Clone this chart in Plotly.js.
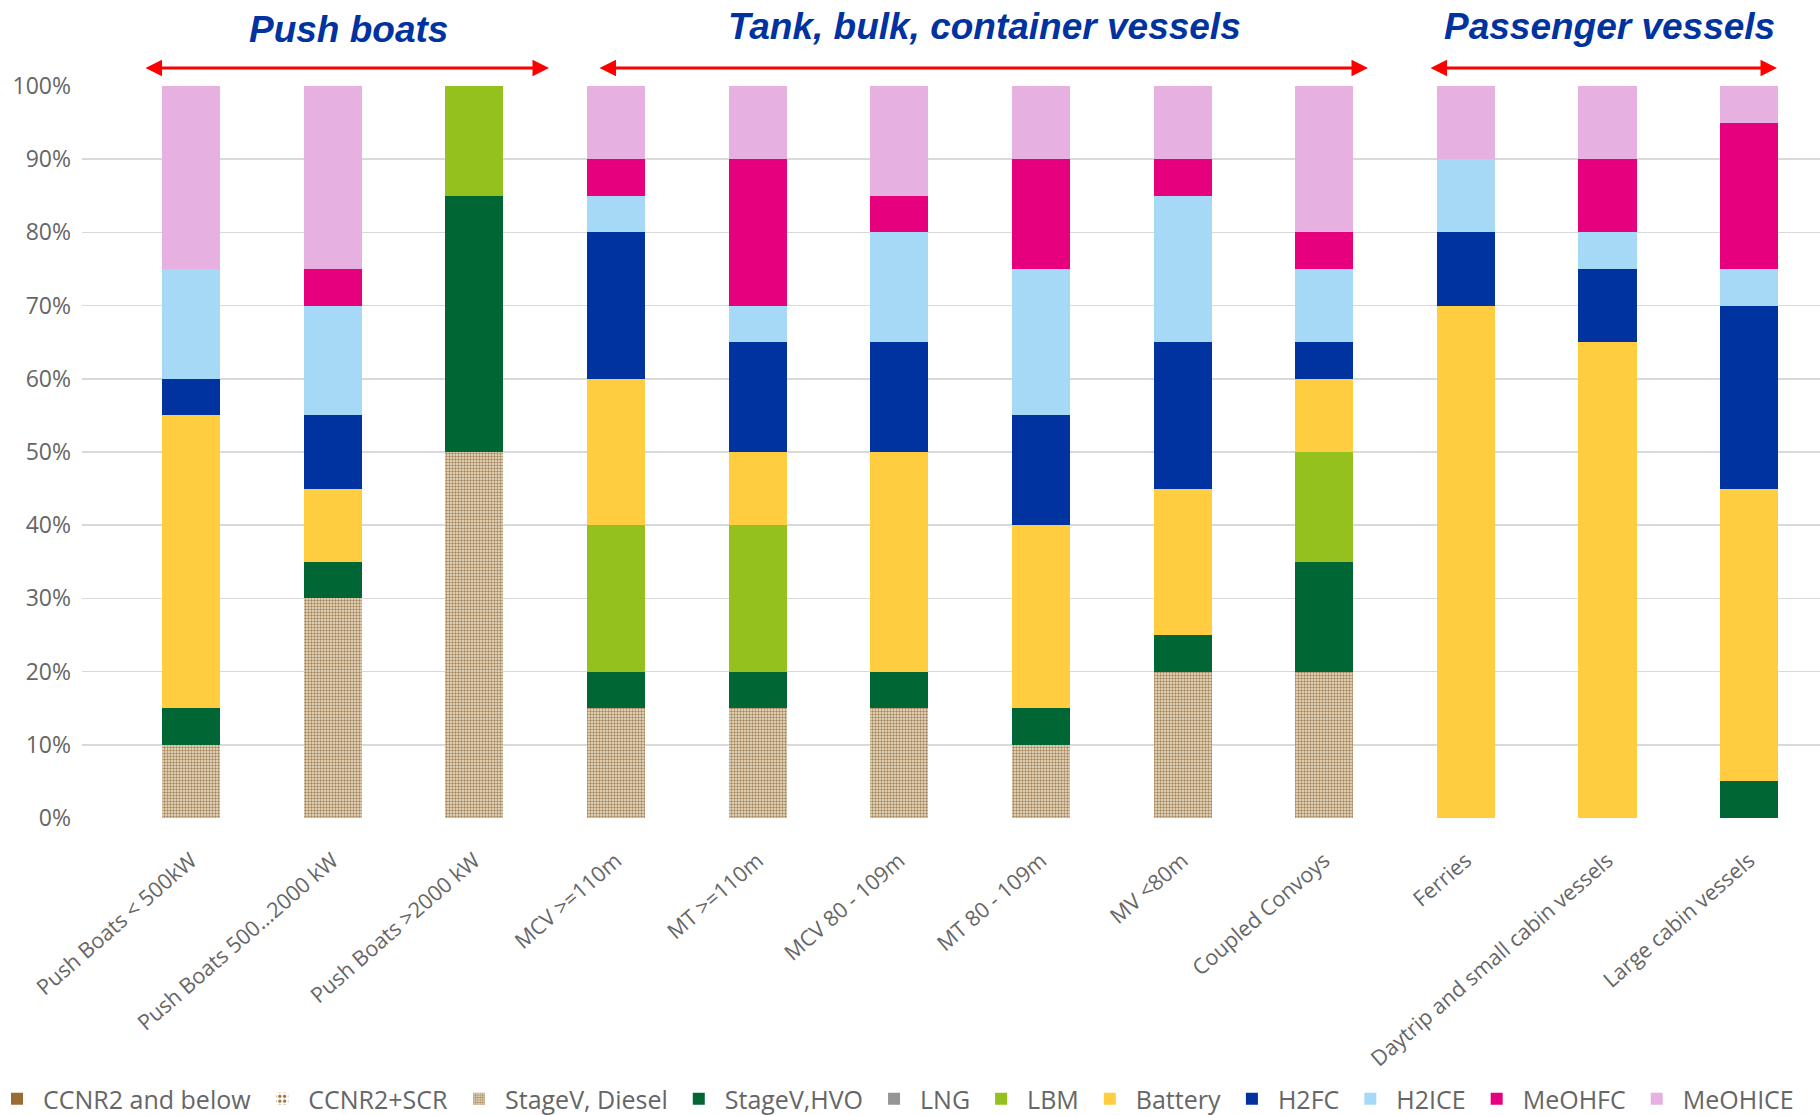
<!DOCTYPE html>
<html>
<head>
<meta charset="utf-8">
<script src="https://cdn.plot.ly/plotly-3.0.1.min.js"></script>
<style>
html,body{margin:0;padding:0;background:#fff;}
#chart{width:1820px;height:1115px;}
</style>
</head>
<body>
<div id="chart"></div>
<script>
// ---- data ----
const categories = [
  "Push Boats < 500kW", "Push Boats 500...2000 kW", "Push Boats >2000 kW",
  "MCV >=110m", "MT >=110m", "MCV 80 - 109m", "MT 80 - 109m", "MV <80m",
  "Coupled Convoys", "Ferries", "Daytrip and small cabin vessels", "Large cabin vessels"
];
const seriesNames = ["CCNR2 and below", "CCNR2+SCR", "StageV, Diesel", "StageV,HVO", "LNG",
  "LBM", "Battery", "H2FC", "H2ICE", "MeOHFC", "MeOHICE"];
const ccnr2Below   = [0, 0, 0, 0, 0, 0, 0, 0, 0, 0, 0, 0];
const ccnr2Scr     = [0, 0, 0, 0, 0, 0, 0, 0, 0, 0, 0, 0];
const stageVDiesel = [10, 30, 50, 15, 15, 15, 10, 20, 20, 0, 0, 0];
const stageVHVO    = [5, 5, 35, 5, 5, 5, 5, 5, 15, 0, 0, 5];
const lng          = [0, 0, 0, 0, 0, 0, 0, 0, 0, 0, 0, 0];
const lbm          = [0, 0, 15, 20, 20, 0, 0, 0, 15, 0, 0, 0];
const battery      = [40, 10, 0, 20, 10, 30, 25, 20, 10, 70, 65, 40];
const h2fc         = [5, 10, 0, 20, 15, 15, 15, 20, 5, 10, 10, 25];
const h2ice        = [15, 15, 0, 5, 5, 15, 20, 20, 10, 10, 5, 5];
const meohfc       = [0, 5, 0, 5, 20, 5, 15, 5, 5, 0, 10, 20];
const meohice      = [25, 25, 0, 10, 10, 15, 10, 10, 20, 10, 10, 5];
const groupTitles  = ["Push boats", "Tank, bulk, container vessels", "Passenger vessels"];

// ---- styles ----
const seriesValues = [ccnr2Below, ccnr2Scr, stageVDiesel, stageVHVO, lng, lbm, battery, h2fc, h2ice, meohfc, meohice];
const colors = ["#9A6B33", "#9A6B33", "#B8996A", "#006633", "#959595", "#95C11F", "#FFCD3F", "#0033A0", "#A6D9F6", "#E6007E", "#E6B0E0"];
const patterns = [
  null,
  {shape: ".", fgcolor: "#9A6B33", bgcolor: "#ffffff", size: 6, solidity: 0.35, fillmode: "replace"},
  {shape: ".", fgcolor: "#A8885A", bgcolor: "#EDE3D3", size: 3, solidity: 0.5, fillmode: "replace"},
  null, null, null, null, null, null, null, null
];

const traces = seriesNames.map((name, i) => {
  const marker = {color: colors[i], line: {width: 0}};
  if (patterns[i]) marker.pattern = patterns[i];
  return {
    type: "bar", name: name, x: categories, y: seriesValues[i],
    marker: marker, width: 0.41, hoverinfo: "skip"
  };
});

const L = 82, R = 0, T = 86, B = 297, FW = 1820, FH = 1115;
const PW = FW - L - R, PH = FH - T - B;
const px = v => (v - L) / PW;
const py = v => (FH - B - v) / PH;

const titleFont = {family: "Liberation Sans, Arial, sans-serif", size: 37, color: "#0033A0", weight: "bold", style: "italic"};
const annotations = [
  {text: groupTitles[0], x: px(348), y: py(30), xref: "paper", yref: "paper", showarrow: false, font: titleFont, xanchor: "center", yanchor: "middle"},
  {text: groupTitles[1], x: px(985), y: py(27), xref: "paper", yref: "paper", showarrow: false, font: titleFont, xanchor: "center", yanchor: "middle"},
  {text: groupTitles[2], x: px(1609), y: py(27), xref: "paper", yref: "paper", showarrow: false, font: titleFont, xanchor: "center", yanchor: "middle"}
];
const arrows = [[144, 549], [598, 1368], [1429, 1777]];
arrows.forEach(a => {
  annotations.push({
    text: "", x: px(a[1]), y: py(68), xref: "paper", yref: "paper",
    ax: -(a[1] - a[0]), ay: 0, axref: "pixel", ayref: "pixel",
    showarrow: true, arrowside: "end+start", arrowhead: 2, startarrowhead: 2,
    arrowsize: 1.1, startarrowsize: 1.1, arrowwidth: 3, arrowcolor: "#FF0000"
  });
});

const tickFontX = {family: "Open Sans, sans-serif", size: 21.5, color: "#666666"};
const tickFontY = {family: "Open Sans, sans-serif", size: 23, color: "#666666"};
const layout = {
  width: FW, height: FH,
  margin: {l: L, r: R, t: T, b: B, pad: 0, autoexpand: false},
  paper_bgcolor: "#ffffff", plot_bgcolor: "#ffffff",
  barmode: "stack", bargap: 0.59,
  showlegend: true,
  legend: {
    orientation: "h", x: px(-9), xanchor: "left", y: py(1099), yanchor: "middle",
    bgcolor: "rgba(0,0,0,0)",
    font: {family: "Open Sans, sans-serif", size: 25, color: "#666666"},
    traceorder: "normal", itemwidth: 42, itemclick: false
  },
  xaxis: {
    type: "category", range: [-0.77, 11.5], tickangle: -41, tickfont: tickFontX,
    showgrid: false, zeroline: false, showline: false, ticks: "", ticklabelstandoff: 25,
    automargin: false
  },
  yaxis: {
    range: [0, 100], dtick: 10, ticksuffix: "%", tickfont: tickFontY,
    showgrid: true, gridcolor: "#D9D9D9", gridwidth: 1.5, zeroline: false, showline: false, ticks: "",
    ticklabelstandoff: 10, automargin: false
  },
  annotations: annotations
};

Plotly.newPlot("chart", traces, layout, {staticPlot: true, displayModeBar: false});
</script>
</body>
</html>
